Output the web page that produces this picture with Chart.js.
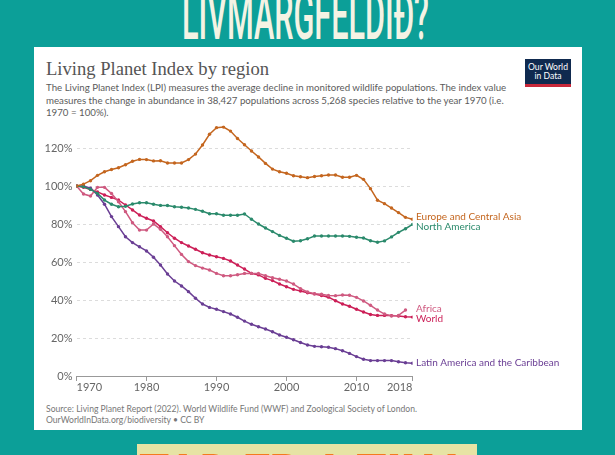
<!DOCTYPE html>
<html>
<head>
<meta charset="utf-8">
<script src="https://cdn.jsdelivr.net/npm/chart.js@4.4.1/dist/chart.umd.min.js"></script>
<style>
  html,body{margin:0;padding:0;}
  body{width:615px;height:455px;overflow:hidden;background:#0C9F98;position:relative;font-family:Lato,"Noto Sans",sans-serif;}
  .abs{position:absolute;}
  #card{left:34px;top:47px;width:548px;height:383px;background:#fff;}
  #title{left:46px;top:58px;font-family:"Liberation Serif","DejaVu Serif",serif;font-size:18.6px;color:#555;white-space:nowrap;}
  #sub{left:46px;top:81.4px;font-size:9.7px;line-height:12.2px;color:#5b5b5b;white-space:nowrap;}
  #logo{left:525px;top:59px;width:46px;height:28px;background:#0f2a4f;border-bottom:3px solid #c8283a;box-sizing:border-box;color:#fff;font-size:8.6px;line-height:9.5px;text-align:center;padding-top:3.5px;}
  #foot{left:46px;top:403.5px;font-size:8.6px;line-height:11px;color:#777;white-space:nowrap;}
  #yellow{left:137px;top:444px;width:340px;height:20px;background:#E7E3A4;}
  svg{position:absolute;left:0;top:0;}
  canvas{position:absolute;left:0;top:0;}
</style>
</head>
<body>
<div id="card" class="abs"></div>
<div id="yellow" class="abs"></div>
<svg width="615" height="455">
  <text x="182" y="38.5" textLength="247" lengthAdjust="spacingAndGlyphs" font-family="Roboto, 'DejaVu Sans', sans-serif" font-weight="500" font-size="66" fill="#F4F3E4">LIVMARGFELDIÐ?</text>
  <text x="139" y="498" textLength="329" lengthAdjust="spacingAndGlyphs" font-family="Roboto, 'DejaVu Sans', sans-serif" font-weight="900" font-size="62" fill="#F47A1F">TAÐ ER A TINA</text>
</svg>
<div id="title" class="abs">Living Planet Index by region</div>
<div id="sub" class="abs">The Living Planet Index (LPI) measures the average decline in monitored wildlife populations. The index value<br>measures the change in abundance in 38,427 populations across 5,268 species relative to the year 1970 (i.e.<br>1970 = 100%).</div>
<div id="logo" class="abs">Our World<br>in Data</div>
<div id="foot" class="abs">Source: Living Planet Report (2022). World Wildlife Fund (WWF) and Zoological Society of London.<br>OurWorldInData.org/biodiversity • CC BY</div>
<canvas id="c" width="615" height="455"></canvas>
<script>
const years = [1970,1971,1972,1973,1974,1975,1976,1977,1978,1979,
  1980,1981,1982,1983,1984,1985,1986,1987,1988,1989,
  1990,1991,1992,1993,1994,1995,1996,1997,1998,1999,
  2000,2001,2002,2003,2004,2005,2006,2007,2008,2009,
  2010,2011,2012,2013,2014,2015,2016,2017,2018];

const europeCentralAsia = [100,101,102.8,105.6,107.5,108.7,109.6,111.2,113,114,
  113.9,113.2,113.3,112.1,112.1,112.1,113.9,116.8,121.6,127.2,
  130.7,131,128.9,125,121.7,118.4,115.3,111.9,108.9,107.5,
  106.7,105.4,104.9,104.4,105,105.4,105.8,105.8,104.6,104.6,
  105.6,103.5,98.6,92.5,90.7,88.4,86,83.5,82.5];

const northAmerica = [100,99.6,98.2,96.1,92.6,90.4,89.1,89.3,90.5,91.2,
  91.2,90.4,89.8,89.7,89.1,88.8,88.4,87.7,86.7,85.4,
  85.4,84.6,84.6,84.6,85.3,82.5,80,77.9,76,74,
  72.5,70.9,71.2,72.2,73.7,73.7,73.7,73.7,73.7,73.5,
  73,72.6,71.2,70.4,71.1,73.2,75.6,77.5,79.8];

const africa = [100,95.8,94.7,99.3,99.3,96.1,91.7,86.5,80.7,76.8,
  76.8,80,77.2,73.3,68.6,64,60.2,58.1,56.8,55.8,
  54,52.8,52.8,53.3,54,54,54,52.8,51.7,50.9,
  50,48.4,46,44.2,43.3,43,42.4,42.3,42.6,42.5,
  41.4,39.5,37.2,34.7,32.6,31.6,31.9,34.7,null];

const world = [100,99.3,98.2,96.9,95.3,94,92.6,90,87.4,84.7,
  83,81.6,78.6,75.4,72.5,70.2,68.4,66.7,64.9,63.7,
  62.8,61.9,60.5,58.4,56.3,54,53.2,51.4,50.2,48.4,
  47,45.6,44.7,43.8,43.2,42.4,41.5,39.6,37.9,36.7,
  35.1,33.7,32.4,31.9,31.9,31.8,31.6,31.2,31];

const latinAmerica = [100,100,98.8,95.3,90.4,83.9,78.6,73.3,70.2,68,
  65.8,62.5,58.4,53.7,50,47.4,44.4,40.9,37.9,36.1,
  35.1,33.9,32.6,30.9,28.9,27.2,25.9,24.7,23.3,21.6,
  20.4,19.1,17.6,16.3,15.6,15.4,15.1,14.4,13.3,11.9,
  10.2,8.8,8.1,8.1,8.1,8.1,7.5,7,6.7];

const xTicks = [1970,1980,1990,2000,2010,2018];
const yTicks = [0,20,40,60,80,100,120];

const seriesNames = ["Europe and Central Asia","North America","Africa","Latin America and the Caribbean","World"];
const seriesValues = [europeCentralAsia, northAmerica, africa, latinAmerica, world];
const seriesColors = ["#C4661F","#2B8A6C","#CF5A80","#6A3E94","#CC1F57"];

function toPoints(vals){
  const pts = [];
  for (let i = 0; i < years.length; i++) {
    if (vals[i] !== null && vals[i] !== undefined) pts.push({x: years[i], y: vals[i]});
  }
  return pts;
}

const endLabels = {
  id: 'endLabels',
  afterDatasetsDraw(chart){
    const {ctx, scales:{x, y}} = chart;
    const items = chart.data.datasets.map(ds => {
      const last = ds.data[ds.data.length - 1];
      return {text: ds.label, color: ds.borderColor, y: y.getPixelForValue(last.y)};
    });
    items.sort((a,b) => a.y - b.y);
    const gap = 10.4;
    for (let it = 0; it < 20; it++) {
      for (let i = 0; i < items.length - 1; i++) {
        const d = items[i+1].y - items[i].y;
        if (d < gap) {
          const push = (gap - d) / 2;
          items[i].y -= push;
          items[i+1].y += push;
        }
      }
    }
    ctx.save();
    ctx.font = '10px Lato, "Noto Sans", sans-serif';
    ctx.textBaseline = 'middle';
    ctx.textAlign = 'left';
    items.forEach(o => { ctx.fillStyle = o.color; ctx.fillText(o.text, x.right + 3.5, o.y); });
    ctx.restore();
  }
};

new Chart(document.getElementById('c'), {
  type: 'line',
  data: {
    datasets: seriesNames.map((name, k) => ({
      label: name,
      data: toPoints(seriesValues[k]),
      borderColor: seriesColors[k],
      backgroundColor: seriesColors[k],
      pointBackgroundColor: seriesColors[k],
      pointBorderWidth: 0,
      pointRadius: 1.7,
      borderWidth: 1.5,
      tension: 0,
      fill: false
    }))
  },
  options: {
    responsive: false,
    animation: false,
    devicePixelRatio: 1,
    layout: {padding: {left: 40, right: 202.5, top: 125.2, bottom: 59}},
    plugins: {legend: {display: false}, tooltip: {enabled: false}},
    scales: {
      x: {
        type: 'linear', min: 1970, max: 2018,
        afterBuildTicks: s => { s.ticks = xTicks.map(v => ({value: v})); },
        afterFit: s => { s.height = 20; },
        ticks: {
          align: 'inner', padding: 0, color: '#666',
          font: {family: 'Lato', size: 11},
          callback: v => String(v), maxRotation: 0, autoSkip: false
        },
        grid: {display: true, drawOnChartArea: false, drawTicks: true, tickLength: 5, color: '#999'},
        border: {display: true, color: '#999', width: 1}
      },
      y: {
        type: 'linear', min: 0, max: 132,
        afterBuildTicks: s => { s.ticks = yTicks.map(v => ({value: v})); },
        afterFit: s => { s.width = 36.5; },
        ticks: {
          padding: 4, color: '#666', font: {family: 'Lato', size: 11},
          callback: v => v + '%'
        },
        grid: {
          drawTicks: false,
          color: ctx => (ctx.tick && ctx.tick.value === 0) ? 'rgba(0,0,0,0)' : '#dcdcdc',
          lineWidth: 1
        },
        border: {display: false, dash: [3,3]}
      }
    }
  },
  plugins: [endLabels]
});
</script>
</body>
</html>
